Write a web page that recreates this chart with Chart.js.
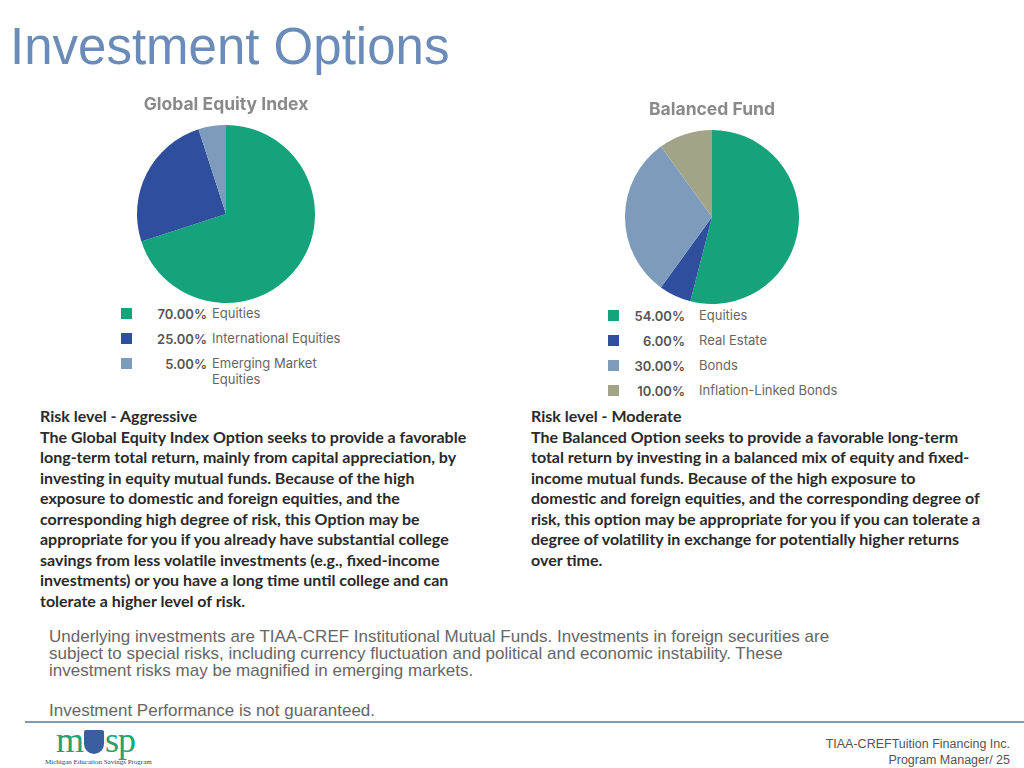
<!DOCTYPE html>
<html>
<head>
<meta charset="utf-8">
<script src="https://cdn.jsdelivr.net/npm/chart.js"></script>
<style>
  body { margin: 0; width: 1024px; height: 768px; background: #fff; position: relative; overflow: hidden; font-family: "Liberation Sans", Arial, sans-serif; }
  .abs { position: absolute; }
  #pageTitle { left: 10px; top: 17px; font-size: 51px; color: #6b8cb8; margin: 0; font-weight: normal; }
  .box { position: absolute; }
  .legend { position: absolute; font-family: "Inter", "Noto Sans", sans-serif; font-size: 13px; color: #666; }
  .legend .row { position: relative; height: 25px; }
  .legend .sw { position: absolute; left: 0; top: 2px; width: 11px; height: 11px; }
  .legend .pct { position: absolute; left: 10px; text-align: right; font-weight: 600; color: #555; }
  .legend .lbl { position: absolute; white-space: nowrap; line-height: 16px; top: -1px; }
  .desc { position: absolute; font-family: "Lato", "Carlito", sans-serif; font-weight: bold; font-size: 16px; line-height: 20.5px; color: #2a2a2a; white-space: nowrap; }
  .foot { position: absolute; left: 49px; font-size: 17px; line-height: 17px; color: #666; white-space: nowrap; }
  #rule { left: 25px; top: 721px; width: 999px; height: 2px; background: #7d9bbd; }
  #credit { right: 14px; top: 736px; font-size: 12.5px; line-height: 16px; color: #555; text-align: right; }
  #logo { left: 56px; top: 726px; width: 100px; color: #22a275; }
</style>
</head>
<body>
<h1 id="pageTitle" class="abs">Investment Options</h1>

<div class="box" style="left:126px; top:88px; width:200px; height:215px;"><canvas id="pieLeft"></canvas></div>
<div class="box" style="left:612px; top:93px; width:200px; height:211px;"><canvas id="pieRight"></canvas></div>

<div id="legendLeft" class="legend" style="left:121px; top:306px;"></div>
<div id="legendRight" class="legend" style="left:608px; top:308px;"></div>

<div class="desc" style="left:40px; top:406px;">Risk level - Aggressive<br>The Global Equity Index Option seeks to provide a favorable<br>long-term total return, mainly from capital appreciation, by<br>investing in equity mutual funds. Because of the high<br>exposure to domestic and foreign equities, and the<br>corresponding high degree of risk, this Option may be<br>appropriate for you if you already have substantial college<br>savings from less volatile investments (e.g., fixed-income<br>investments) or you have a long time until college and can<br>tolerate a higher level of risk.</div>

<div class="desc" style="left:531px; top:406px;">Risk level - Moderate<br>The Balanced Option seeks to provide a favorable long-term<br>total return by investing in a balanced mix of equity and fixed-<br>income mutual funds. Because of the high exposure to<br>domestic and foreign equities, and the corresponding degree of<br>risk, this option may be appropriate for you if you can tolerate a<br>degree of volatility in exchange for potentially higher returns<br>over time.</div>

<div class="foot" style="top:628px;">Underlying investments are TIAA-CREF Institutional Mutual Funds. Investments in foreign securities are<br>subject to special risks, including currency fluctuation and political and economic instability. These<br>investment risks may be magnified in emerging markets.</div>
<div class="foot" style="top:702px;">Investment Performance is not guaranteed.</div>

<div id="rule" class="abs"></div>

<div id="logo" class="abs">
  <div style="font-family:'Liberation Serif',serif; font-size:36px; line-height:28px; letter-spacing:-1px;">m<span style="display:inline-block; width:20px; height:24px; background:#3a5fa0; border-radius:2px 2px 10px 10px; vertical-align:-2px; margin:0 1px;"></span>sp</div>
  <div style="font-family:'Liberation Serif',serif; font-size:7px; color:#2a3f78; white-space:nowrap; margin-top:4px; margin-left:-11px;">Michigan Education Savings Program</div>
</div>

<div id="credit" class="abs">TIAA-CREFTuition Financing Inc.<br>Program Manager/ 25</div>

<script>
const leftLabels = ["Equities", "International Equities", "Emerging Market\nEquities"];
const leftValues = [70, 25, 5];
const leftColors = ["#14a37b", "#2f4f9e", "#7d9bbb"];

const rightLabels = ["Equities", "Real Estate", "Bonds", "Inflation-Linked Bonds"];
const rightValues = [54, 6, 30, 10];
const rightColors = ["#14a37b", "#2f4f9e", "#7d9bbb", "#a2a488"];

function makePie(id, title, labels, values, colors) {
  new Chart(document.getElementById(id).getContext("2d"), {
    type: "pie",
    data: {
      labels: labels,
      datasets: [{ data: values, backgroundColor: colors, borderWidth: 0 }]
    },
    options: {
      responsive: true,
      maintainAspectRatio: false,
      animation: false,
      layout: { padding: 0 },
      plugins: {
        legend: { display: false },
        tooltip: { enabled: false },
        title: {
          display: true,
          text: title,
          color: "#8a8a8a",
          font: { family: "Inter, 'Noto Sans', sans-serif", size: 17.5, weight: "bold" },
          padding: { top: 6, bottom: 10 }
        }
      }
    }
  });
}

function makeLegend(id, labels, values, colors, pctWidth) {
  const box = document.getElementById(id);
  labels.forEach(function (label, i) {
    const row = document.createElement("div");
    row.className = "row";
    row.innerHTML =
      '<span class="sw" style="background:' + colors[i] + '"></span>' +
      '<span class="pct" style="width:' + pctWidth + 'px">' + values[i].toFixed(2) + '%</span>' +
      '<span class="lbl" style="left:91px">' + label.replace("\n", "<br>") + '</span>';
    box.appendChild(row);
  });
}

makePie("pieLeft", "Global Equity Index", leftLabels, leftValues, leftColors);
makePie("pieRight", "Balanced Fund", rightLabels, rightValues, rightColors);
makeLegend("legendLeft", leftLabels, leftValues, leftColors, 76);
makeLegend("legendRight", rightLabels, rightValues, rightColors, 67);
</script>
</body>
</html>
